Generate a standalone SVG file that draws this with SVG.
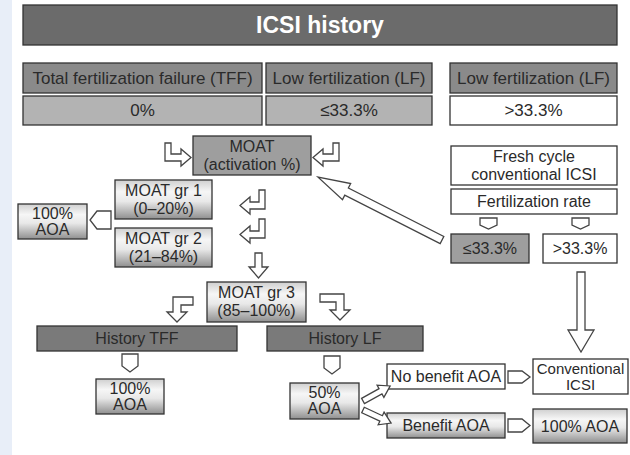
<svg xmlns="http://www.w3.org/2000/svg" width="630" height="455" viewBox="0 0 630 455">
<defs>
<linearGradient id="grad" x1="0" y1="0" x2="0" y2="1">
<stop offset="0" stop-color="#cfcfcf"/>
<stop offset="0.3" stop-color="#f6f6f6"/>
<stop offset="0.55" stop-color="#e8e8e8"/>
<stop offset="1" stop-color="#8f8f8f"/>
</linearGradient>
<style>
.b{stroke:#333;stroke-width:1.3}
.title{fill:#6b6b6b}
.dark{fill:#8a8a8a}
.mid{fill:#b3b3b3}
.moat{fill:#9e9e9e}
.hist{fill:#7a7a7a}
.white{fill:#fff}
.gr{fill:url(#grad)}
text{font-family:"Liberation Sans",Arial,sans-serif;font-size:16px;fill:#2a2a2a;text-anchor:middle}
.t{font-size:23px;font-weight:bold;fill:#fff}
.h{font-size:17px}
.s{font-size:15px}
.arr{fill:#fff;stroke:#444;stroke-width:1.3;stroke-linejoin:miter}
</style>
</defs>
<rect x="0" y="0" width="630" height="455" fill="#fff"/>
<rect x="0" y="0" width="12" height="455" fill="#e8eef8"/>

<g id="title"><rect class="b title" x="23" y="5" width="594" height="40"/><text class="t" x="320" y="33">ICSI history</text></g>
<g id="h-tff"><rect class="b dark" x="23" y="63" width="239" height="30"/><text class="h" x="142.5" y="84">Total fertilization failure (TFF)</text></g>
<g id="h-lf1"><rect class="b dark" x="266" y="63" width="166" height="30"/><text class="h" x="349" y="84">Low fertilization (LF)</text></g>
<g id="h-lf2"><rect class="b dark" x="450" y="63" width="167" height="30"/><text class="h" x="533.5" y="84">Low fertilization (LF)</text></g>
<g id="v-0"><rect class="b mid" x="23" y="96" width="239" height="29"/><text class="h" x="142.5" y="116">0%</text></g>
<g id="v-le"><rect class="b mid" x="266" y="96" width="166" height="29"/><text class="h" x="349" y="116">≤33.3%</text></g>
<g id="v-gt"><rect class="b white" x="450" y="96" width="167" height="29"/><text class="h" x="533.5" y="116">&gt;33.3%</text></g>

<g id="moat"><rect class="b moat" x="193" y="136" width="118" height="39"/><text x="252" y="152">MOAT</text><text x="252" y="170">(activation %)</text></g>
<g id="gr1"><rect class="b gr" x="115" y="180" width="97" height="39"/><text x="163.5" y="196">MOAT gr 1</text><text x="163.5" y="214">(0–20%)</text></g>
<g id="gr2"><rect class="b gr" x="115" y="228" width="97" height="39"/><text x="163.5" y="244">MOAT gr 2</text><text x="163.5" y="262">(21–84%)</text></g>
<g id="aoa-left"><rect class="b gr" x="18" y="204" width="69" height="35"/><text x="52.5" y="219">100%</text><text x="52.5" y="235">AOA</text></g>
<g id="gr3"><rect class="b gr" x="207" y="282" width="99" height="40"/><text x="256.5" y="298">MOAT gr 3</text><text x="256.5" y="316">(85–100%)</text></g>
<g id="hist-tff"><rect class="b hist" x="37" y="326" width="200" height="25"/><text x="137" y="344">History TFF</text></g>
<g id="hist-lf"><rect class="b hist" x="267" y="326" width="156" height="25"/><text x="345" y="344">History LF</text></g>
<g id="aoa-tff"><rect class="b gr" x="96" y="379" width="68" height="35"/><text x="130" y="394">100%</text><text x="130" y="410">AOA</text></g>
<g id="aoa-50"><rect class="b gr" x="290" y="383" width="69" height="36"/><text x="324.5" y="398">50%</text><text x="324.5" y="414">AOA</text></g>
<g id="nobenefit"><rect class="b white" x="387" y="364" width="118" height="25"/><text x="446" y="382">No benefit AOA</text></g>
<g id="benefit"><rect class="b gr" x="387" y="413" width="118" height="25"/><text x="446" y="431">Benefit AOA</text></g>
<g id="conv"><rect class="b white" x="533" y="359" width="95" height="35"/><text class="s" x="580.5" y="374">Conventional</text><text class="s" x="580.5" y="390">ICSI</text></g>
<g id="aoa100"><rect class="b gr" x="533" y="409" width="94" height="34"/><text x="580" y="432">100% AOA</text></g>
<g id="fresh"><rect class="b white" x="451" y="146" width="166" height="39"/><text x="534" y="162">Fresh cycle</text><text x="534" y="180">conventional ICSI</text></g>
<g id="fert"><rect class="b white" x="451" y="189" width="166" height="25"/><text x="534" y="207">Fertilization rate</text></g>
<g id="fr-le"><rect class="b moat" x="451" y="234" width="78" height="29"/><text x="490" y="254">≤33.3%</text></g>
<g id="fr-gt"><rect class="b white" x="543" y="234" width="74" height="29"/><text x="580" y="254">&gt;33.3%</text></g>

<g id="connectors">
<path class="arr" d="M165,143 L171,143 L171,154 L181,154 L181,149 L191,157.5 L181,166 L181,161 L165,161 Z"/>
<path class="arr" d="M339,143 L333,143 L333,154 L323,154 L323,149 L313,157.5 L323,166 L323,161 L339,161 Z"/>
<path class="arr" d="M265,190 L259,190 L259,202 L250,202 L250,197 L240,205.5 L250,214 L250,209 L265,209 Z"/>
<path class="arr" d="M265,219 L259,219 L259,231 L250,231 L250,226 L240,234.5 L250,243 L250,238 L265,238 Z"/>
<path class="arr" d="M255,253 L262,253 L262,267 L268,267 L258.5,278 L249,267 L255,267 Z"/>
<path class="arr" d="M111,211 L111,229 L97,229 L90,220 L97,211 Z"/>
<path class="arr" d="M193,297 L193,305 L181,305 L181,312 L187,312 L177,322 L167,312 L173,312 L173,297 Z"/>
<path class="arr" d="M320,294 L344,294 L344,310 L350,310 L340,320 L330,310 L336,310 L336,302 L320,302 Z"/>
<path class="arr" d="M122,354 L138,354 L138,366 L130,372 L122,366 Z"/>
<path class="arr" d="M324,356 L340,356 L340,368 L332,374 L324,368 Z"/>
<path class="arr" d="M480,218 L497,218 L497,225 L488.5,229 L480,225 Z"/>
<path class="arr" d="M572,218 L589,218 L589,225 L580.5,229 L572,225 Z"/>
<path class="arr" d="M508,371 L522,371 L530,377 L522,383 L508,383 Z"/>
<path class="arr" d="M508,419 L522,419 L530,425.5 L522,432 L508,432 Z"/>
<path class="arr" d="M577,272 L585,272 L585,330 L594,330 L581,352 L568,330 L577,330 Z"/>
<path class="arr" transform="translate(442,240) rotate(206.9)" d="M0,-4 L107,-4 L107,-9 L139,0 L107,9 L107,4 L0,4 Z"/>
<path class="arr" transform="translate(363,401) rotate(-29)" d="M0,-3 L20,-3 L20,-7 L31,0 L20,7 L20,3 L0,3 Z"/>
<path class="arr" transform="translate(363,410) rotate(25)" d="M0,-3 L20,-3 L20,-7 L31,0 L20,7 L20,3 L0,3 Z"/>
</g>
</svg>
